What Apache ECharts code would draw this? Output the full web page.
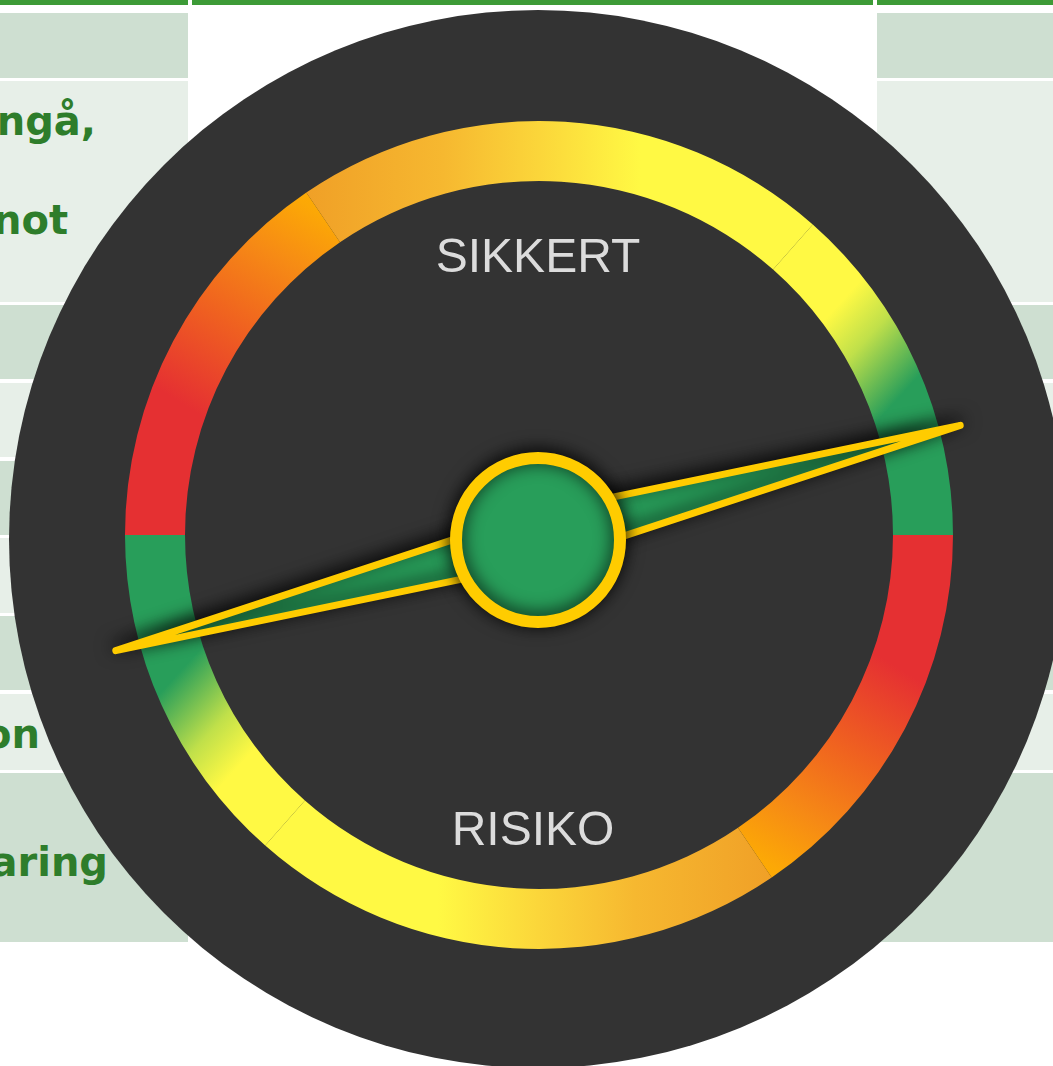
<!DOCTYPE html>
<html>
<head>
<meta charset="utf-8">
<title>Sikkert / Risiko</title>
<script src="https://cdn.jsdelivr.net/npm/echarts/dist/echarts.min.js"></script>
<style>
html, body { margin: 0; padding: 0; background: #fff; }
#page { position: relative; width: 1053px; height: 1066px; overflow: hidden; }
.bar { position: absolute; top: 0; height: 5px; background: #3d9b37; }
.cell { position: absolute; overflow: hidden; }
.cell span {
    position: absolute;
    font: bold 40px "DejaVu Sans", Verdana, sans-serif;
    line-height: 40px;
    color: #2e7d2b;
    white-space: nowrap;
}
#chart { position: absolute; left: 0; top: 0; width: 1053px; height: 1066px; }
</style>
</head>
<body>
<div id="page">
    <div id="table"></div>
    <div id="chart"></div>
</div>
<script>
// gauge data
var gaugeNames = ['SIKKERT', 'RISIKO']
var gaugeValues = [91.7, 91.7]
var gaugeMin = 0
var gaugeMax = 100
// where the colour bands of each half change (share of the half circle)
var bandEnds = [0.31, 0.73, 1]

// text of the table behind the chart (only the visible ends of the words)
var rowTexts = [[], ['ngå,', 'not'], [], [], [], [], [], ['on'], ['aring']]

// ---- background table ----
var columns = [[0, 188], [192, 873], [877, 1053]]
var rowTops = [13, 81, 305, 383, 461, 538, 616, 694, 773]
var rowBottoms = [78, 302, 379, 457, 535, 613, 690, 770, 942]
var textLines = {
    'ngå,': { top: 101, right: 92 },
    'not': { top: 200, right: 120 },
    'on': { top: 714, right: 148 },
    'aring': { top: 842, right: 80 }
}
var table = document.getElementById('table')
columns.forEach(function (col, c) {
    var bar = document.createElement('div')
    bar.className = 'bar'
    bar.style.left = col[0] + 'px'
    bar.style.width = (col[1] - col[0]) + 'px'
    table.appendChild(bar)
    if (c === 1) {
        return
    }
    for (var i = 0; i < rowTops.length; i++) {
        var cell = document.createElement('div')
        cell.className = 'cell'
        cell.style.left = col[0] + 'px'
        cell.style.width = (col[1] - col[0]) + 'px'
        cell.style.top = rowTops[i] + 'px'
        cell.style.height = (rowBottoms[i] - rowTops[i]) + 'px'
        cell.style.background = i % 2 === 0 ? '#cedfd1' : '#e7efe8'
        if (c === 0) {
            rowTexts[i].forEach(function (t) {
                var s = document.createElement('span')
                s.textContent = t
                s.style.top = (textLines[t].top - rowTops[i]) + 'px'
                s.style.right = textLines[t].right + 'px'
                cell.appendChild(s)
            })
        }
        table.appendChild(cell)
    }
})

// ---- chart ----
var GREEN = '#289e5a'
var YELLOW = '#ffcc00'
var discCenter = [538, 539]
var ringCenter = [539, 535]
var needleCenter = [538, 538]

function grad(x, y, x2, y2, stops) {
    return {
        type: 'linear', x: x, y: y, x2: x2, y2: y2,
        colorStops: stops.map(function (s) { return { offset: s[0], color: s[1] } })
    }
}
var redOrange = [[0, '#e53032'], [0.35, '#e53032'], [0.6, '#f0641f'], [0.78, '#f68a15'], [0.93, '#fca806'], [1, '#ffae00']]
var orangeYellow = [[0, '#f0a027'], [0.27, '#f6b830'], [0.46, '#fbd63a'], [0.66, '#fff944'], [1, '#fff944']]
var yellowGreen = [[0, '#fff944'], [0.42, '#fff944'], [0.6, '#c0e04a'], [0.86, GREEN], [1, GREEN]]

var topBands = [
    [bandEnds[0], grad(0, 1, 1, 0, redOrange)],
    [bandEnds[1], grad(0, 0, 1, 0, orangeYellow)],
    [bandEnds[2], grad(0, 0, 1, 0.53, yellowGreen)]
]
var bottomBands = [
    [bandEnds[0], grad(1, 0, 0, 1, redOrange)],
    [bandEnds[1], grad(1, 0, 0, 0, orangeYellow)],
    [bandEnds[2], grad(1, 1, 0, 0.47, yellowGreen)]
]

var hidden = {
    axisTick: { show: false },
    splitLine: { show: false },
    axisLabel: { show: false },
    progress: { show: false },
    detail: { show: false }
}

// one half of the coloured ring, with its title
function ring(i, startAngle, endAngle, bands, titleOffset) {
    return Object.assign({
        type: 'gauge',
        z: 2,
        center: ringCenter,
        radius: 414,
        startAngle: startAngle,
        endAngle: endAngle,
        min: gaugeMin,
        max: gaugeMax,
        axisLine: { lineStyle: { width: 60, color: bands } },
        pointer: { show: false },
        title: {
            offsetCenter: titleOffset,
            fontSize: 48,
            fontFamily: 'Liberation Sans',
            color: '#dcdcdc'
        },
        data: [{ name: gaugeNames[i], value: gaugeValues[i] }]
    }, hidden)
}

// one end of the needle
function needle(i, startAngle, endAngle, withAnchor) {
    return Object.assign({
        type: 'gauge',
        z: 3 + i,
        center: needleCenter,
        radius: 414,
        startAngle: startAngle,
        endAngle: endAngle,
        min: gaugeMin,
        max: gaugeMax,
        axisLine: { show: false },
        pointer: {
            icon: 'path://M50,0 L100,1000 L0,1000 Z',
            keepAspect: false,
            length: 437,
            width: 50,
            itemStyle: {
                color: GREEN,
                borderColor: YELLOW,
                borderWidth: 7,
                borderJoin: 'round',
                shadowBlur: 18,
                shadowOffsetY: -4,
                shadowColor: 'rgba(0,0,0,0.85)'
            }
        },
        anchor: {
            show: withAnchor,
            showAbove: true,
            size: 164,
            offsetCenter: [0, 2],
            itemStyle: {
                color: GREEN,
                borderColor: YELLOW,
                borderWidth: 12,
                shadowBlur: 18,
                shadowOffsetY: -2,
                shadowColor: 'rgba(0,0,0,0.85)'
            }
        },
        title: { show: false },
        data: [{ name: gaugeNames[i], value: gaugeValues[i] }]
    }, hidden)
}

var chart = echarts.init(document.getElementById('chart'))
chart.setOption({
    animation: false,
    series: [
        Object.assign({
            // dark disc behind the dial
            type: 'gauge',
            z: 1,
            center: discCenter,
            radius: 529,
            startAngle: 90,
            endAngle: -270,
            axisLine: { lineStyle: { width: 529, color: [[1, '#333333']] } },
            pointer: { show: false },
            title: { show: false },
            data: [{ value: 0 }]
        }, hidden),
        ring(0, 180, 0, topBands, [-1, -276]),
        ring(1, 0, -180, bottomBands, [-6, 297]),
        needle(0, 180, 0, false),
        needle(1, 0, -180, true)
    ]
})
</script>
</body>
</html>
